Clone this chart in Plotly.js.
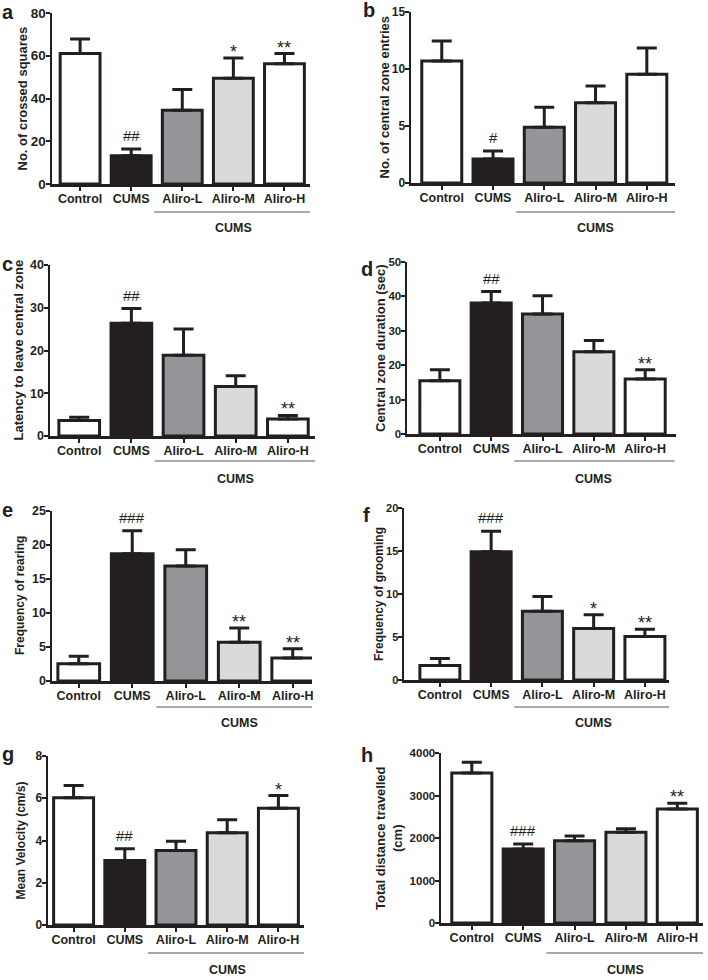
<!DOCTYPE html>
<html>
<head>
<meta charset="utf-8">
<script src="https://cdn.plot.ly/plotly-3.0.1.min.js"></script>
<style>html,body{margin:0;padding:0;background:#fff;}#chart{width:708px;height:980px;}</style>
</head>
<body>
<div id="chart"></div>
<script>
// ---- data ----
const categories = ['Control', 'CUMS', 'Aliro-L', 'Aliro-M', 'Aliro-H'];
const groupLabel = 'CUMS';

const crossedSquares      = [61.0, 13.2, 34.5, 49.5, 56.3];
const crossedSquaresErr   = [6.8, 3.2, 9.7, 9.5, 4.7];
const crossedSquaresSig   = ['', '##', '', '*', '**'];
const crossedSquaresTicks = [0, 20, 40, 60, 80];

const centralEntries      = [10.7, 2.1, 4.9, 7.05, 9.55];
const centralEntriesErr   = [1.75, 0.7, 1.75, 1.45, 2.3];
const centralEntriesSig   = ['', '#', '', '', ''];
const centralEntriesTicks = [0, 5, 10, 15];

const latencyLeave      = [3.6, 26.4, 18.9, 11.6, 4.0];
const latencyLeaveErr   = [0.8, 3.4, 6.1, 2.5, 0.8];
const latencyLeaveSig   = ['', '##', '', '', '**'];
const latencyLeaveTicks = [0, 10, 20, 30, 40];

const centralDuration      = [15.5, 38.1, 34.9, 23.9, 16.0];
const centralDurationErr   = [3.2, 3.3, 5.3, 3.3, 2.7];
const centralDurationSig   = ['', '##', '', '', '**'];
const centralDurationTicks = [0, 10, 20, 30, 40, 50];

const rearing      = [2.55, 18.7, 16.9, 5.7, 3.4];
const rearingErr   = [1.1, 3.4, 2.4, 2.1, 1.35];
const rearingSig   = ['', '###', '', '**', '**'];
const rearingTicks = [0, 5, 10, 15, 20, 25];

const grooming      = [1.7, 14.9, 8.0, 6.0, 5.05];
const groomingErr   = [0.8, 2.4, 1.7, 1.6, 0.85];
const groomingSig   = ['', '###', '', '*', '**'];
const groomingTicks = [0, 5, 10, 15, 20];

const velocity      = [6.02, 3.05, 3.53, 4.37, 5.53];
const velocityErr   = [0.58, 0.56, 0.44, 0.61, 0.6];
const velocitySig   = ['', '##', '', '', '*'];
const velocityTicks = [0, 2, 4, 6, 8];

const distance      = [3527, 1740, 1937, 2134, 2685];
const distanceErr   = [253, 118, 110, 86, 134];
const distanceSig   = ['', '###', '', '', '**'];
const distanceTicks = [0, 1000, 2000, 3000, 4000];

// ---- styling / layout ----
const W = 708, H = 980;
const INK = '#231f20';
const FONT = 'Liberation Sans, Arial, Helvetica, sans-serif';
const fillColors = ['#ffffff', '#231f20', '#939598', '#d9dadb', '#ffffff'];
const B = t => '<b>' + t + '</b>';

const panels = [
  {letter:'a', vals:crossedSquares, errs:crossedSquaresErr, sig:crossedSquaresSig, ticks:crossedSquaresTicks, yfs:13.5,
   title:'No. of crossed squares', tsize:13, tx:22, dom:[52,310,13,184], xr:[-0.55,4.5], lx:0, ly:20, lineY:212, labY:228},
  {letter:'b', vals:centralEntries, errs:centralEntriesErr, sig:centralEntriesSig, ticks:centralEntriesTicks, yfs:12,
   title:'No. of central zone entries', tsize:13, tx:384, dom:[411,675,12,183], xr:[-0.6,4.55], lx:361, ly:18, lineY:212, labY:228},
  {letter:'c', vals:latencyLeave, errs:latencyLeaveErr, sig:latencyLeaveSig, ticks:latencyLeaveTicks, yfs:12.5,
   title:'Latency to leave central zone', tsize:13, tx:18, dom:[50,315,265,436], xr:[-0.56,4.52], lx:0, ly:272, lineY:461, labY:479},
  {letter:'d', vals:centralDuration, errs:centralDurationErr, sig:centralDurationSig, ticks:centralDurationTicks, yfs:11.5,
   title:'Central zone duration (sec)', tsize:13, tx:380, dom:[407,676,262,434], xr:[-0.64,4.6], lx:359, ly:277, lineY:461, labY:479},
  {letter:'e', vals:rearing, errs:rearingErr, sig:rearingSig, ticks:rearingTicks, yfs:12.5,
   title:'Frequency of rearing', tsize:12, tx:20, dom:[52,312,511,681], xr:[-0.5,4.36], lx:0, ly:518, lineY:707, labY:723},
  {letter:'f', vals:grooming, errs:groomingErr, sig:groomingSig, ticks:groomingTicks, yfs:11,
   title:'Frequency of grooming', tsize:12, tx:379, dom:[404,669,508,680], xr:[-0.7,4.47], lx:361, ly:523, lineY:707, labY:723},
  {letter:'g', vals:velocity, errs:velocityErr, sig:velocitySig, ticks:velocityTicks, yfs:12,
   title:'Mean Velocity (cm/s)', tsize:12, tx:20, dom:[48,304,756,925], xr:[-0.5,4.5], lx:0, ly:762, lineY:953, labY:970},
  {letter:'h', vals:distance, errs:distanceErr, sig:distanceSig, ticks:distanceTicks, yfs:11.5,
   title:'Total distance travelled<br>(cm)', tsize:13, tx:389, dom:[441,703,753,923], xr:[-0.6,4.5], lx:359, ly:763, lineY:953, labY:970}
];

const traces = [];
const layout = {
  width: W, height: H,
  margin: {l:0, r:0, t:0, b:0},
  paper_bgcolor: '#ffffff', plot_bgcolor: 'rgba(0,0,0,0)',
  showlegend: false,
  font: {family: FONT, color: INK},
  annotations: [], shapes: []
};

const px2x = p => p / W;
const px2y = p => 1 - p / H;
const groupStart = categories.indexOf('Aliro-L');
const groupEnd = categories.length - 1;

panels.forEach((p, i) => {
  const n = i + 1;
  const xa = 'x' + n, ya = 'y' + n;
  const xk = 'xaxis' + (n === 1 ? '' : n), yk = 'yaxis' + (n === 1 ? '' : n);
  traces.push({
    type: 'bar', x: categories.map((c, k) => k), y: p.vals,
    xaxis: xa, yaxis: ya, width: 0.78,
    marker: {color: fillColors, line: {color: INK, width: 3}},
    error_y: {type: 'data', symmetric: false, array: p.errs, arrayminus: p.vals.map(() => 0),
              color: INK, thickness: 3, width: 10},
    hoverinfo: 'skip'
  });
  layout[xk] = {
    domain: [px2x(p.dom[0]), px2x(p.dom[1])], anchor: ya, range: p.xr,
    tickmode: 'array', tickvals: categories.map((c, k) => k), ticktext: categories.map(B),
    showline: true, linecolor: INK, linewidth: 2.5, ticks: 'outside', ticklen: 4, tickwidth: 2,
    tickcolor: INK, showgrid: false, zeroline: false, automargin: false, fixedrange: true,
    ticklabelstandoff: -3,
    tickfont: {family: FONT, size: 12.5, color: INK}
  };
  layout[yk] = {
    domain: [px2y(p.dom[3]), px2y(p.dom[2])], anchor: xa,
    range: [p.ticks[0], p.ticks[p.ticks.length - 1]],
    tickmode: 'array', tickvals: p.ticks, ticktext: p.ticks.map(B),
    showline: true, linecolor: INK, linewidth: 2.5, ticks: 'outside', ticklen: 4, tickwidth: 2,
    tickcolor: INK, showgrid: false, zeroline: false, automargin: false, fixedrange: true,
    ticklabelstandoff: -3,
    tickfont: {family: FONT, size: p.yfs, color: INK}
  };
  // y-axis title
  layout.annotations.push({
    xref: 'paper', yref: 'paper', x: px2x(p.tx), y: px2y((p.dom[2] + p.dom[3]) / 2),
    xanchor: 'center', yanchor: 'middle', textangle: -90, showarrow: false,
    text: p.title.split('<br>').map(B).join('<br>'),
    font: {family: FONT, size: p.tsize, color: INK}
  });
  // panel letter
  layout.annotations.push({
    xref: 'paper', yref: 'paper', x: px2x(p.lx), y: px2y(p.ly + 5),
    xanchor: 'left', yanchor: 'bottom', showarrow: false, text: B(p.letter),
    font: {family: FONT, size: 20, color: INK}
  });
  // significance marks
  p.sig.forEach((s, k) => {
    if (!s) return;
    const isHash = s.indexOf('#') >= 0;
    layout.annotations.push({
      xref: xa, yref: ya, x: k, y: p.vals[k] + p.errs[k],
      xanchor: 'center', yanchor: 'bottom', yshift: isHash ? 3 : -6, showarrow: false, text: s,
      font: {family: FONT, size: isHash ? 15 : 18, color: INK}
    });
  });
  // group bracket
  layout.shapes.push({
    type: 'line', xref: xa, yref: 'paper',
    x0: groupStart - 0.55, x1: groupEnd + 0.57, y0: px2y(p.lineY), y1: px2y(p.lineY),
    line: {color: '#555555', width: 1.2}
  });
  layout.annotations.push({
    xref: xa, yref: 'paper', x: (groupStart + groupEnd) / 2, y: px2y(p.labY),
    xanchor: 'center', yanchor: 'middle', showarrow: false, text: B(groupLabel),
    font: {family: FONT, size: 12.5, color: INK}
  });
});

Plotly.newPlot('chart', traces, layout, {staticPlot: true, displayModeBar: false});
</script>
</body>
</html>
